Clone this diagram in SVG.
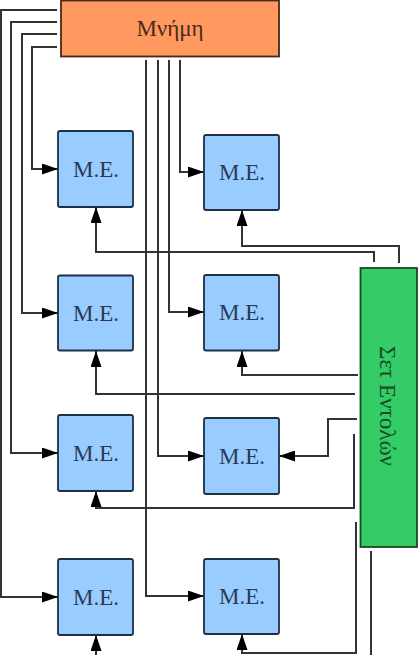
<svg xmlns="http://www.w3.org/2000/svg" width="419" height="655" viewBox="0 0 419 655">
<style>
.me rect{fill:#99ccff;stroke:#1f2f45;stroke-width:1.8}
.me text{font-family:"Liberation Serif","DejaVu Serif",serif;font-size:23px;fill:#2a3a55;text-anchor:middle}
.c path{fill:none;stroke:#333333;stroke-width:2}
</style>
<defs>
<marker id="ah" markerUnits="userSpaceOnUse" markerWidth="16" markerHeight="11" refX="16" refY="5.5" orient="auto">
<path d="M0,0 L16,5.5 L0,11 z" fill="#000"/>
</marker>
</defs>
<rect width="419" height="655" fill="#fff"/>
<g id="memory">
<rect x="61" y="0.5" width="218" height="56" fill="#ff9960" stroke="#4a2814" stroke-width="1.8"/>
<text x="170" y="36" font-family="Liberation Serif,DejaVu Serif,serif" font-size="23" fill="#4a2a1a" text-anchor="middle">Μνήμη</text>
</g>
<g id="instructions">
<rect x="360.5" y="268" width="56.5" height="279" fill="#33cc66" stroke="#1a4a22" stroke-width="1.8"/>
<text transform="translate(380,406) rotate(90)" font-family="Liberation Serif,DejaVu Serif,serif" font-size="23" fill="#1a4a2a" text-anchor="middle">Σετ Εντολών</text>
</g>
<g id="me11" class="me"><rect x="58" y="131" width="75" height="76" rx="2"/><text x="96" y="177">M.E.</text></g>
<g id="me12" class="me"><rect x="204" y="135" width="75" height="75" rx="2"/><text x="242" y="180">M.E.</text></g>
<g id="me21" class="me"><rect x="58" y="275.5" width="75" height="75" rx="2"/><text x="96" y="321">M.E.</text></g>
<g id="me22" class="me"><rect x="204" y="275" width="75" height="75.5" rx="2"/><text x="242" y="320">M.E.</text></g>
<g id="me31" class="me"><rect x="58" y="415" width="75" height="76" rx="2"/><text x="96" y="461">M.E.</text></g>
<g id="me32" class="me"><rect x="204" y="418" width="75" height="76" rx="2"/><text x="242" y="464">M.E.</text></g>
<g id="me41" class="me"><rect x="58" y="559" width="75" height="76" rx="2"/><text x="96" y="605">M.E.</text></g>
<g id="me42" class="me"><rect x="204" y="559" width="75" height="75" rx="2"/><text x="242" y="604">M.E.</text></g>
<g id="connectors" class="c">
<path d="M57,10 H1 V597 H58" marker-end="url(#ah)"/>
<path d="M57,22 H11 V453 H58" marker-end="url(#ah)"/>
<path d="M57,34 H22 V313 H58" marker-end="url(#ah)"/>
<path d="M57,47 H32 V169 H58" marker-end="url(#ah)"/>
<path d="M146,60 V596 H204" marker-end="url(#ah)"/>
<path d="M158,60 V456 H204" marker-end="url(#ah)"/>
<path d="M169,60 V312 H204" marker-end="url(#ah)"/>
<path d="M180,60 V172 H204" marker-end="url(#ah)"/>
<path d="M374,262 V252 H96 V207" marker-end="url(#ah)"/>
<path d="M399,263 V246 H242 V210" marker-end="url(#ah)"/>
<path d="M358,375 H242 V351" marker-end="url(#ah)"/>
<path d="M355,394 H96 V351" marker-end="url(#ah)"/>
<path d="M357,419 H328 V456 H279" marker-end="url(#ah)"/>
<path d="M354,434 V508 H96 V491" marker-end="url(#ah)"/>
<path d="M356,522 V653 H242 V634" marker-end="url(#ah)"/>
<path d="M96,656 V635" marker-end="url(#ah)"/>
<path d="M371,551 V656"/>
</g>
</svg>
